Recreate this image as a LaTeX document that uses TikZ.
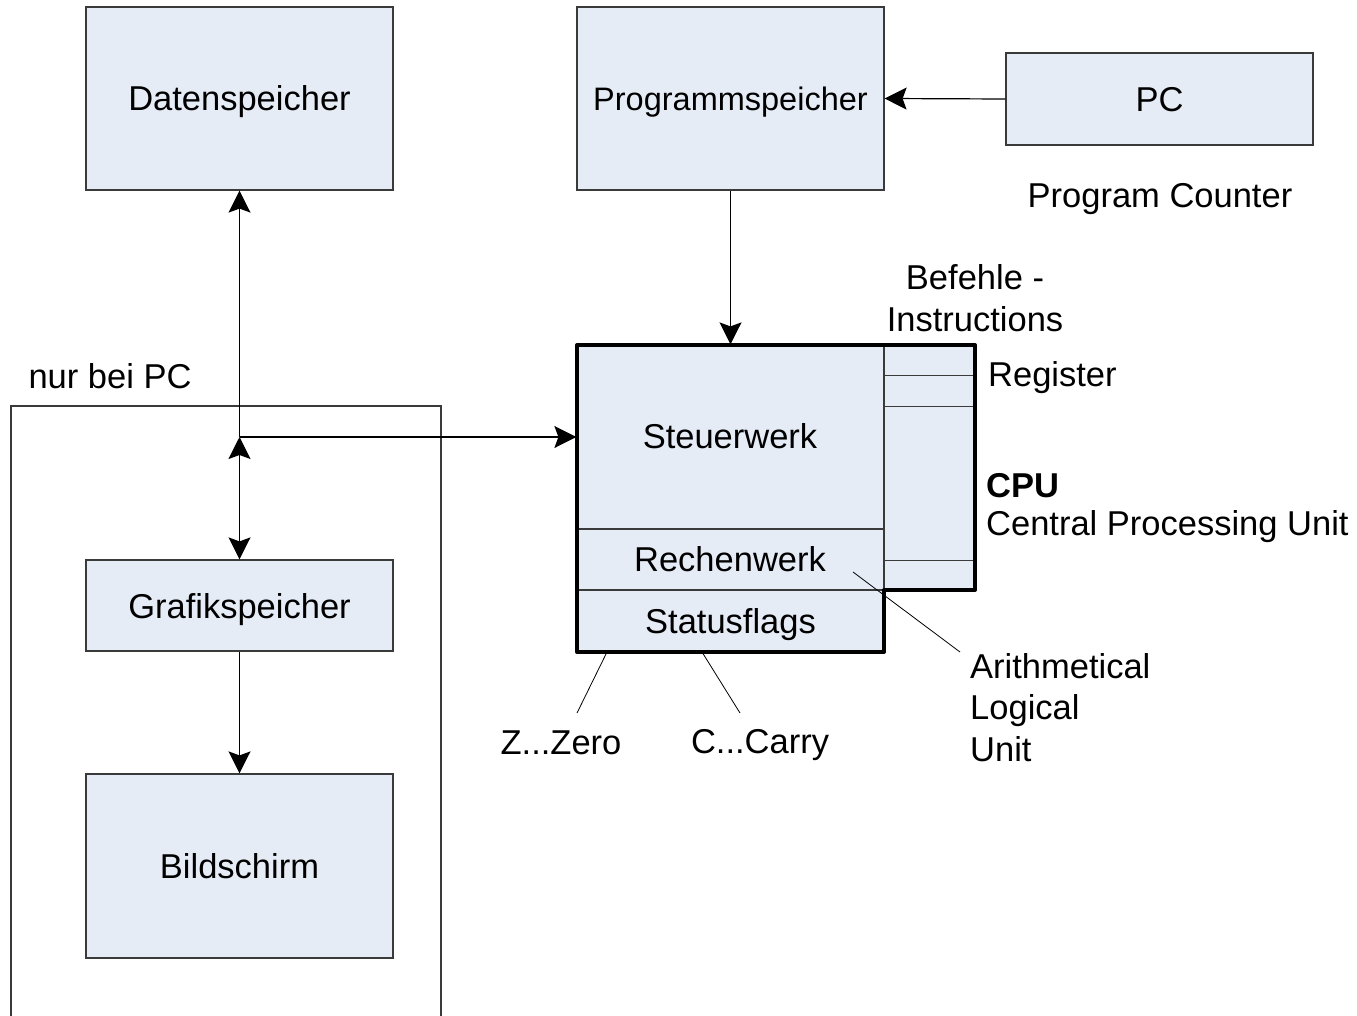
\documentclass[tikz,border=0pt]{standalone}
\usepackage{fontspec}
\setmainfont{Liberation Sans}
\usetikzlibrary{arrows.meta}
\definecolor{boxfill}{HTML}{E6ECF6}
\definecolor{boxline}{HTML}{3A3A3A}
\begin{document}
\begin{tikzpicture}[x=1pt,y=-1pt,
  font=\fontsize{34.5}{41.5}\selectfont,
  unit/.style={draw=boxline,line width=1.2pt,fill=boxfill,inner sep=0pt,
    minimum width=307pt,text depth=0pt},
  part/.style={draw=boxline,line width=1.2pt,fill=boxfill,inner sep=0pt,
    minimum width=307pt,text depth=0pt},
  conn/.style={line width=1.2pt,-{Stealth[length=22pt,width=22pt,inset=4pt]}},
  biconn/.style={line width=1.2pt,{Stealth[length=22pt,width=22pt,inset=4pt]}-{Stealth[length=22pt,width=22pt,inset=4pt]}},
  thin/.style={line width=0.8pt},
  lbl/.style={inner sep=0pt}]
\useasboundingbox (0,0) rectangle (1357,1016);

% memories and peripherals
\node[unit,minimum height=183pt] (daten) at (239.5,98.5) {Datenspeicher};
\node[unit,minimum height=183pt,font=\fontsize{32.5}{39}\selectfont] (prog)
  at (730.5,98.5) {Programmspeicher};
\node[unit,minimum height=92pt] (pc) at (1159.5,99) {PC};
\node[lbl] (pclbl) at (1160,199) {Program Counter};
\node[unit,minimum height=91pt] (grafik) at (239.5,605.5) {Grafikspeicher};
\node[unit,minimum height=184pt] (bild) at (239.5,866) {Bildschirm};

% PC-only frame
\draw[line width=1.2pt,draw=boxline] (11,1016) |- (441,406) -- (441,1016);
\node[lbl] (nurpc) at (110,376) {nur bei PC};

% CPU: control unit, ALU, status flags, register column
\node[part,minimum height=184pt] (steuer) at (730.5,437) {};
\node[lbl] at (730,436) {Steuerwerk};
\node[part,minimum height=61pt] (rechen) at (730.5,559.5) {};
\node[lbl] at (730,559) {Rechenwerk};
\node[part,minimum height=62pt] (status) at (730.5,621) {Statusflags};
\node[draw=boxline,line width=1.2pt,fill=boxfill,inner sep=0pt,
  minimum width=91pt,minimum height=245pt] (reg) at (929.5,467.5) {};
\draw[thin,draw=boxline] (884,375) -- (975,375);
\draw[thin,draw=boxline] (884,406) -- (975,406);
\draw[thin,draw=boxline] (884,560) -- (975,560);
\draw[line width=4pt,line join=round]
  (577,345) -- (975,345) -- (975,590) -- (884,590) -- (884,652)
  -- (577,652) -- cycle;

% CPU labels
\node[lbl,align=center] (befehle) at (975,298) {Befehle -\\Instructions};
\node[lbl,anchor=west] (reglbl) at (988,378) {Register};
\node[lbl,anchor=west] (cpulbl) at (986,486) {\bfseries CPU};
\node[lbl,anchor=west] (cpuname) at (986,527) {Central Processing Unit};
\node[lbl,anchor=north west,align=left] (alu) at (970,653)
  {Arithmetical\\Logical\\Unit};
\node[lbl] (zero) at (561,743) {Z...Zero};
\node[lbl] (carry) at (760,745) {C...Carry};

% pointer lines
\coordinate (aluptr) at (853,572);
\coordinate (aluend) at (960,652);
\coordinate (zptr) at (607,652);
\coordinate (zend) at (577,713);
\coordinate (cptr) at (702,652);
\coordinate (cend) at (740,713);
\draw[thin] (aluptr) -- (aluend);
\draw[thin] (zptr) -- (zend);
\draw[thin] (cptr) -- (cend);

% bus connections
\coordinate (bus) at (239.5,437);
\draw[conn] (pc.west) -- (prog.east);
\draw[conn] (prog.south) -- (steuer.north);
\draw[conn] (bus) -- (daten.south);
\draw[conn] (bus) -- (steuer.west);
\draw[biconn] (bus) -- (grafik.north);
\draw[conn] (grafik.south) -- (bild.north);
\end{tikzpicture}
\end{document}
